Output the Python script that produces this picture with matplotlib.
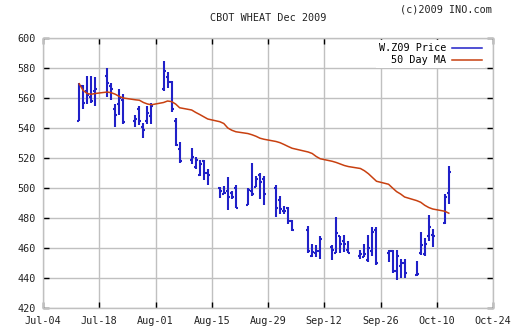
import matplotlib
matplotlib.use('Agg')
import matplotlib.pyplot as plt
import matplotlib.dates as mdates
import numpy as np
import pandas as pd

dates = ['2009-07-13', '2009-07-14', '2009-07-15', '2009-07-16', '2009-07-17',
         '2009-07-20', '2009-07-21', '2009-07-22', '2009-07-23', '2009-07-24',
         '2009-07-27', '2009-07-28', '2009-07-29', '2009-07-30', '2009-07-31',
         '2009-08-03', '2009-08-04', '2009-08-05', '2009-08-06', '2009-08-07',
         '2009-08-10', '2009-08-11', '2009-08-12', '2009-08-13', '2009-08-14',
         '2009-08-17', '2009-08-18', '2009-08-19', '2009-08-20', '2009-08-21',
         '2009-08-24', '2009-08-25', '2009-08-26', '2009-08-27', '2009-08-28',
         '2009-08-31', '2009-09-01', '2009-09-02', '2009-09-03', '2009-09-04',
         '2009-09-08', '2009-09-09', '2009-09-10', '2009-09-11',
         '2009-09-14', '2009-09-15', '2009-09-16', '2009-09-17', '2009-09-18',
         '2009-09-21', '2009-09-22', '2009-09-23', '2009-09-24', '2009-09-25',
         '2009-09-28', '2009-09-29', '2009-09-30', '2009-10-01', '2009-10-02',
         '2009-10-05', '2009-10-06', '2009-10-07', '2009-10-08', '2009-10-09',
         '2009-10-12', '2009-10-13']

opens = [545, 568, 565, 561, 565,
         575, 568, 553, 556, 559,
         545, 553, 541, 545, 548,
         566, 574, 571, 545, 526,
         519, 514, 509, 518, 510,
         500, 496, 498, 497, 500,
         489, 498, 501, 509, 506,
         500, 492, 485, 487, 478,
         472, 455, 457, 458,
         461, 457, 468, 465, 459,
         455, 454, 452, 458, 472,
         457, 458, 445, 448, 450,
         442, 457, 456, 468, 469,
         477, 497]
highs = [570, 569, 574.5, 574.5, 574,
         580, 570, 556, 566, 563,
         549, 555, 543.5, 555, 557,
         585, 577.5, 571.5, 546.5, 530.5,
         527, 521, 518.5, 518.5, 513,
         500.5, 501.5, 507.5, 498, 502,
         500, 516.5, 508, 510, 508,
         502, 494.5, 488, 487.5, 478.5,
         475, 463, 462, 468,
         462, 481, 468, 468.5, 465,
         459, 463, 468.5, 474, 474,
         459, 459, 458.5, 453, 453,
         451.5, 471, 467, 482, 473,
         496, 514.5]
lows = [544.5, 553, 556, 557, 555,
        561, 559, 541, 548.5, 543,
        541, 542, 533.5, 542.5, 543,
        565, 567, 550.5, 528, 516.5,
        516, 512.5, 508, 505.5, 502,
        493.5, 496, 485.5, 493, 487,
        489, 495, 501, 493, 489,
        481, 482.5, 482.5, 476, 471.5,
        457, 454, 454, 453,
        452, 457, 457, 457.5, 457,
        453, 454, 451, 455, 448.5,
        451, 443.5, 439, 440, 440,
        441.5, 455.5, 455, 465, 461,
        476, 489.5]
closes = [568, 557, 562, 558, 566,
          570, 566, 549, 560, 544,
          546, 545, 539, 550, 555,
          578, 571, 553, 529, 518,
          521, 519, 516, 510, 509,
          498, 497, 494, 494, 487,
          499, 496, 506, 504, 496,
          487, 486, 485, 478, 472,
          458, 457.5, 458, 466,
          459, 470, 463, 463, 457,
          456, 456, 460, 471, 450,
          458, 445, 455, 450, 443.5,
          443, 462, 463, 474, 468,
          494, 511]
ma50 = [569.5, 565, 563, 562.5, 563,
        564, 563.5, 562.5, 561, 560,
        558.8, 558.5, 557, 556, 555.5,
        557, 558, 557.6, 556, 553.5,
        552, 550.4, 549, 547.5, 546,
        544.2, 543, 540, 538.5, 537.5,
        536.3, 535.5, 534.5, 533.2, 532.5,
        531, 530.2, 529, 527.7, 526.5,
        524, 523, 521, 519.5,
        517.8, 517, 516, 515, 514.3,
        513, 511.5, 509.5, 507, 504.5,
        502.5, 500, 497.6, 496, 494,
        491.6, 490.5, 488.5, 487, 486,
        484.5, 483.2]

x_ticks = pd.date_range('2009-07-04', '2009-10-24', freq='14D')
y_ticks = np.arange(420, 601, 20)

bar_color = '#2020c8'
ma_color = '#c84010'
grid_color = '#c0c0c0'

plt.rcParams['font.family'] = ['DejaVu Sans Mono']
fs = 7.3

fig = plt.figure(figsize=(5.12, 3.35), dpi=100)
ax = fig.add_axes([43/512, 27/335, 450/512, 270/335])

x = mdates.date2num(pd.to_datetime(dates))
tick = 0.5
ax.vlines(x, lows, highs, color=bar_color, lw=1.5)
ax.hlines(opens, x - tick, x, color=bar_color, lw=1.5)
ax.hlines(closes, x, x + tick, color=bar_color, lw=1.5)
ax.plot(x, ma50, color=ma_color, lw=1.1, label='50 Day MA')
ax.plot([], [], color=bar_color, lw=1.1, label='W.Z09 Price')

ax.set_xlim(mdates.date2num(x_ticks[0]), mdates.date2num(x_ticks[-1]))
ax.set_ylim(420, 600)
ax.set_xticks(mdates.date2num(x_ticks))
ax.set_xticklabels([d.strftime('%b-%d') for d in x_ticks], fontsize=fs)
ax.set_yticks(y_ticks)
ax.set_yticklabels([str(v) for v in y_ticks], fontsize=fs)
ax.grid(True, color=grid_color, lw=1.0)
ax.set_axisbelow(True)
for s in ax.spines.values():
    s.set_color(grid_color)
    s.set_linewidth(1.0)
ax.tick_params(direction='in', length=4, width=1.0, color='black',
               top=True, right=True, labelcolor='#222222')
ax.tick_params(axis='x', pad=6)
ax.tick_params(axis='y', pad=5)

handles, labels = ax.get_legend_handles_labels()
leg = ax.legend(handles[::-1], labels[::-1], loc='upper right',
                bbox_to_anchor=(1 - 3/450, 1 + 3/270), fontsize=fs,
                markerfirst=False, handlelength=2.9, handletextpad=0.6,
                labelspacing=0.2, borderpad=0.3, borderaxespad=0.5,
                frameon=True, fancybox=False, framealpha=1.0)
leg.get_frame().set_edgecolor('none')
leg.get_frame().set_facecolor('white')

fig.text(268/512, 1 - 18/335, 'CBOT WHEAT Dec 2009', fontsize=fs,
         ha='center', va='center', color='#222222')
fig.text(492/512, 1 - 10/335, '(c)2009 INO.com', fontsize=fs,
         ha='right', va='center', color='#222222')

fig.savefig('out.png', dpi=100)
